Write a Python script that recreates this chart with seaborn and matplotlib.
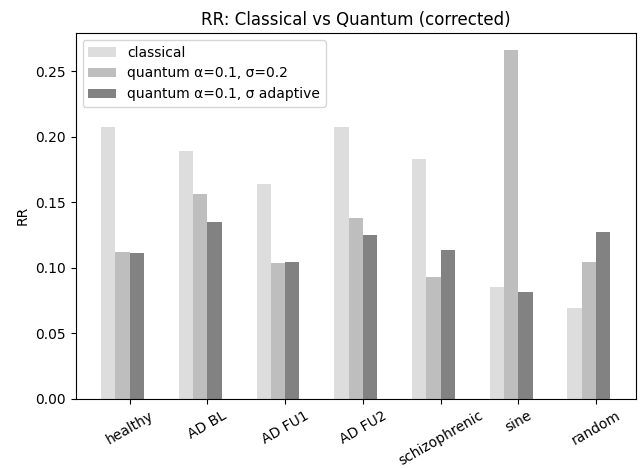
import numpy as np
import matplotlib
matplotlib.use("Agg")
import matplotlib.pyplot as plt
import seaborn as sns

categories = ["healthy", "AD BL", "AD FU1", "AD FU2", "schizophrenic", "sine", "random"]
classical = [0.2077, 0.1894, 0.1641, 0.2070, 0.1833, 0.0854, 0.0693]
quantum_fixed = [0.1121, 0.1565, 0.1037, 0.1381, 0.0930, 0.2658, 0.1045]
quantum_adaptive = [0.1114, 0.1351, 0.1045, 0.1251, 0.1137, 0.0816, 0.1274]
series_names = ["classical", "quantum \u03b1=0.1, \u03c3=0.2", "quantum \u03b1=0.1, \u03c3 adaptive"]
colors = ["#dddddd", "#bdbebd", "#828282"]

fig, ax = plt.subplots(figsize=(6.41, 4.69), dpi=100)
pos = np.arange(len(categories))
w = 0.184
offsets = [-1.5 * w, -0.5 * w, 0.5 * w]
for vals, name, col, off in zip([classical, quantum_fixed, quantum_adaptive], series_names, colors, offsets):
    sns.barplot(x=pos + off, y=vals, native_scale=True, width=w, color=col,
                label=name, errorbar=None, ax=ax, saturation=1)

ax.set_xticks(pos)
ax.set_xticklabels(categories, rotation=30)
ax.set_ylabel("RR")
ax.set_xlabel("")
ax.set_title("RR: Classical vs Quantum (corrected)")
ax.legend(loc="upper left")
fig.subplots_adjust(left=0.1181, right=0.9917, top=0.9296, bottom=0.1499)
fig.savefig("out.png")
